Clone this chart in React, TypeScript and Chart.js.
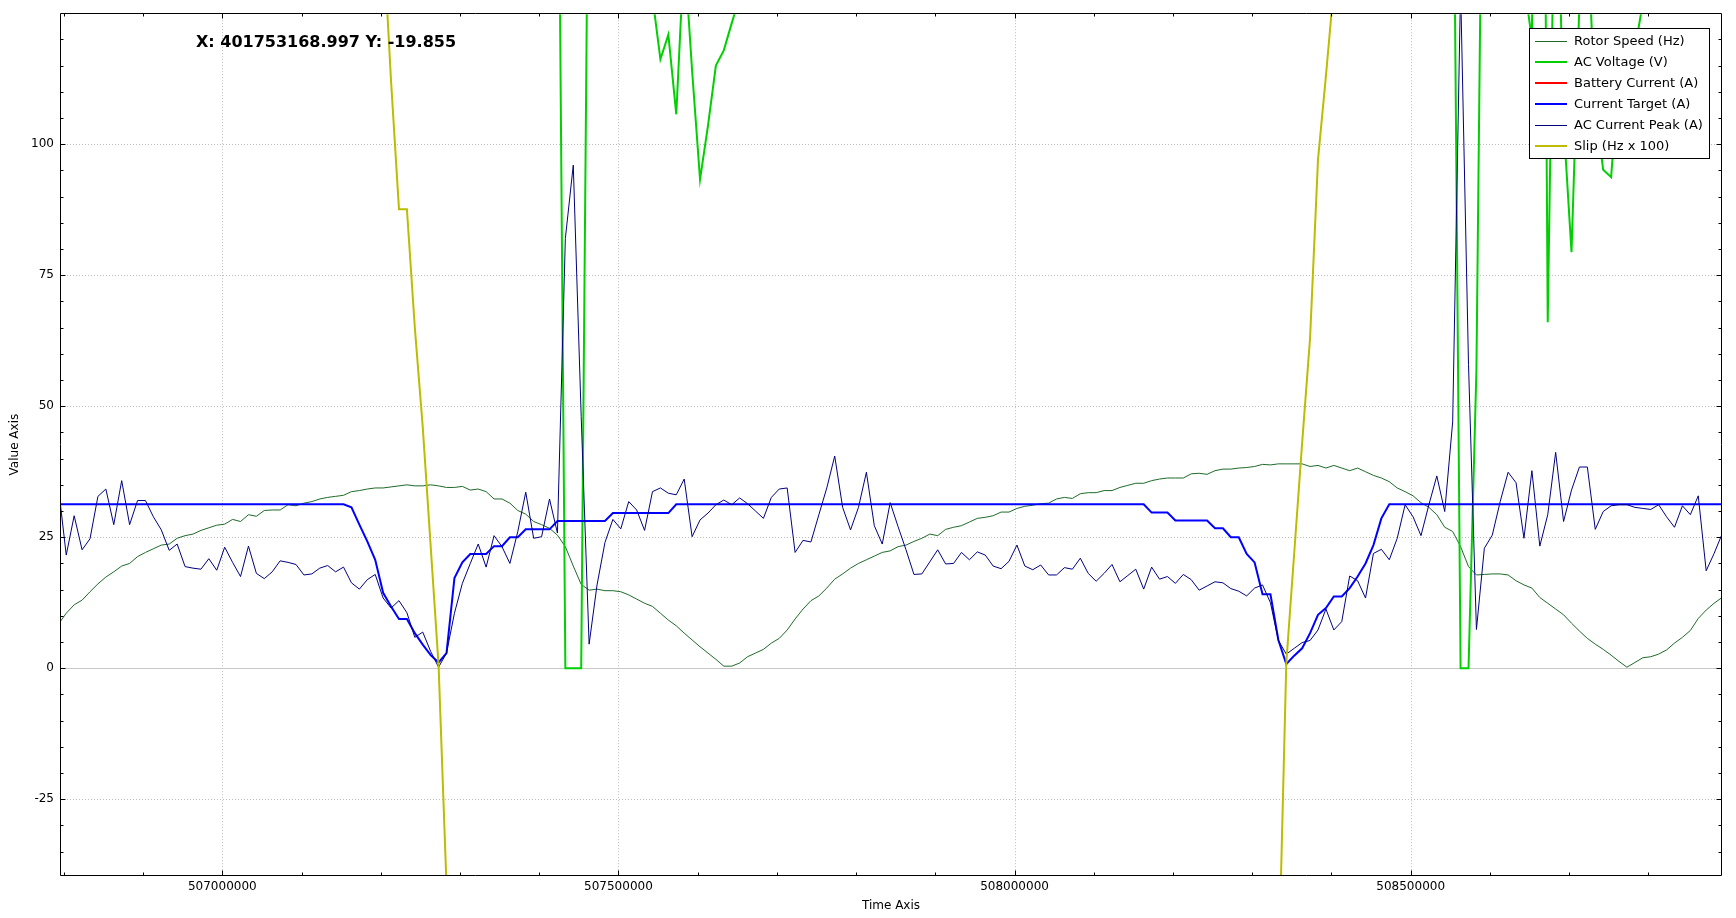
import React, { useEffect, useRef } from "react";
import { Chart, registerables } from "chart.js";

Chart.register(...registerables);

// Sample times (Time Axis)
const timeStamps: number[] = [
  506793000, 506803000, 506813000, 506823000, 506833000, 506843000, 506853000, 506863000, 506873000, 506883000,
  506893000, 506903000, 506913000, 506923000, 506933000, 506943000, 506953000, 506963000, 506973000, 506983000,
  506993000, 507003000, 507013000, 507023000, 507033000, 507043000, 507053000, 507063000, 507073000, 507083000,
  507093000, 507103000, 507113000, 507123000, 507133000, 507143000, 507153000, 507163000, 507173000, 507183000,
  507193000, 507203000, 507213000, 507223000, 507233000, 507243000, 507253000, 507263000, 507273000, 507283000,
  507293000, 507303000, 507313000, 507323000, 507333000, 507343000, 507353000, 507363000, 507373000, 507383000,
  507393000, 507403000, 507413000, 507423000, 507433000, 507443000, 507453000, 507463000, 507473000, 507483000,
  507493000, 507503000, 507513000, 507523000, 507533000, 507543000, 507553000, 507563000, 507573000, 507583000,
  507593000, 507603000, 507613000, 507623000, 507633000, 507643000, 507653000, 507663000, 507673000, 507683000,
  507693000, 507703000, 507713000, 507723000, 507733000, 507743000, 507753000, 507763000, 507773000, 507783000,
  507793000, 507803000, 507813000, 507823000, 507833000, 507843000, 507853000, 507863000, 507873000, 507883000,
  507893000, 507903000, 507913000, 507923000, 507933000, 507943000, 507953000, 507963000, 507973000, 507983000,
  507993000, 508003000, 508013000, 508023000, 508033000, 508043000, 508053000, 508063000, 508073000, 508083000,
  508093000, 508103000, 508113000, 508123000, 508133000, 508143000, 508153000, 508163000, 508173000, 508183000,
  508193000, 508203000, 508213000, 508223000, 508233000, 508243000, 508253000, 508263000, 508273000, 508283000,
  508293000, 508303000, 508313000, 508323000, 508333000, 508343000, 508353000, 508363000, 508373000, 508383000,
  508393000, 508403000, 508413000, 508423000, 508433000, 508443000, 508453000, 508463000, 508473000, 508483000,
  508493000, 508503000, 508513000, 508523000, 508533000, 508543000, 508553000, 508563000, 508573000, 508583000,
  508593000, 508603000, 508613000, 508623000, 508633000, 508643000, 508653000, 508663000, 508673000, 508683000,
  508693000, 508703000, 508713000, 508723000, 508733000, 508743000, 508753000, 508763000, 508773000, 508783000,
  508793000, 508803000, 508813000, 508823000, 508833000, 508843000, 508853000, 508863000, 508873000, 508883000,
  508893000,
];

const rotorSpeed: number[] = [
  8.4, 10.5, 12.1, 13.0, 14.6, 16.1, 17.4, 18.4, 19.5, 20.0,
  21.3, 22.1, 22.8, 23.5, 23.7, 24.8, 25.3, 25.6, 26.3, 26.8,
  27.3, 27.5, 28.4, 28.0, 29.3, 29.0, 30.1, 30.2, 30.2, 31.2,
  31.0, 31.5, 31.8, 32.3, 32.6, 32.8, 33.0, 33.7, 33.9, 34.2,
  34.4, 34.4, 34.6, 34.8, 35.0, 34.8, 34.8, 35.0, 34.8, 34.5,
  34.5, 34.7, 34.0, 34.2, 33.7, 32.3, 32.3, 31.5, 30.1, 29.4,
  28.0, 27.4, 26.7, 25.4, 23.2, 19.5, 16.0, 14.9, 15.1, 14.8,
  14.8, 14.6, 14.0, 13.2, 12.4, 11.8, 10.5, 9.2, 8.1, 6.7,
  5.4, 4.1, 2.9, 1.7, 0.4, 0.4, 1.0, 2.2, 2.9, 3.6,
  4.8, 5.7, 7.3, 9.4, 11.3, 12.9, 13.8, 15.3, 17.0, 18.0,
  19.1, 20.0, 20.7, 21.4, 22.1, 22.4, 23.2, 23.5, 24.2, 24.8,
  25.6, 25.3, 26.5, 26.9, 27.2, 27.9, 28.6, 28.8, 29.1, 29.8,
  29.8, 30.5, 30.9, 31.1, 31.4, 31.5, 32.3, 32.6, 32.4, 33.3,
  33.5, 33.5, 33.9, 33.9, 34.5, 34.9, 35.3, 35.3, 35.8, 36.1,
  36.3, 36.3, 36.3, 37.1, 37.2, 37.0, 37.7, 38.0, 38.0, 38.2,
  38.3, 38.5, 38.9, 38.8, 39.0, 39.0, 39.0, 39.0, 38.5, 38.7,
  38.2, 38.7, 38.2, 37.7, 38.2, 37.5, 36.8, 36.3, 35.6, 34.4,
  33.7, 32.9, 31.6, 30.7, 29.3, 26.9, 26.1, 23.2, 19.4, 17.8,
  17.9, 18.0, 18.0, 17.8, 16.7, 15.9, 15.3, 13.5, 12.4, 11.3,
  10.2, 8.6, 7.1, 5.7, 4.6, 3.6, 2.5, 1.3, 0.2, 1.1,
  2.0, 2.2, 2.7, 3.5, 4.8, 5.9, 7.2, 9.5, 11.1, 12.4,
  13.5,
];

const acVoltage: number[] = [
  300, 300, 300, 300, 300, 300, 300, 300, 300, 300,
  300, 300, 300, 300, 300, 300, 300, 300, 300, 300,
  300, 300, 300, 300, 300, 300, 300, 300, 300, 300,
  300, 300, 300, 300, 300, 300, 300, 300, 300, 300,
  300, 300, 300, 300, 300, 300, 300, 300, 300, 300,
  300, 300, 300, 300, 300, 300, 300, 300, 300, 300,
  300, 300, 300, 187, 0, 0, 0, 177, 300, 300,
  300, 300, 300, 300, 300, 128, 116.2, 120.9, 105.7, 137,
  114, 93.3, 103.5, 115.0, 117.9, 123.1, 128, 300, 300, 300,
  300, 300, 300, 300, 300, 300, 300, 300, 300, 300,
  300, 300, 300, 300, 300, 300, 300, 300, 300, 300,
  300, 300, 300, 300, 300, 300, 300, 300, 300, 300,
  300, 300, 300, 300, 300, 300, 300, 300, 300, 300,
  300, 300, 300, 300, 300, 300, 300, 300, 300, 300,
  300, 300, 300, 300, 300, 300, 300, 300, 300, 300,
  300, 300, 300, 300, 300, 300, 300, 300, 300, 300,
  300, 300, 300, 300, 300, 300, 300, 300, 300, 300,
  300, 300, 300, 300, 300, 300, 178, 0, 0, 57,
  200, 300, 300, 300, 300, 131, 120, 300, 66, 165,
  104, 79.4, 127, 141, 106.7, 95.1, 93.7, 114, 116, 118,
  127, 300, 300, 300, 300, 300, 300, 300, 300, 300,
  300,
];

const batteryCurrent: number[] = [];

const currentTarget: number[] = [
  31.3, 31.3, 31.3, 31.3, 31.3, 31.3, 31.3, 31.3, 31.3, 31.3,
  31.3, 31.3, 31.3, 31.3, 31.3, 31.3, 31.3, 31.3, 31.3, 31.3,
  31.3, 31.3, 31.3, 31.3, 31.3, 31.3, 31.3, 31.3, 31.3, 31.3,
  31.3, 31.3, 31.3, 31.3, 31.3, 31.3, 31.3, 30.7, 27.4, 24.2,
  20.7, 14.4, 11.8, 9.4, 9.4, 6.7, 4.5, 2.5, 1.1, 2.9,
  17.2, 20.2, 21.8, 21.8, 21.8, 23.3, 23.3, 25.0, 25.0, 26.5,
  26.5, 26.5, 26.5, 28.1, 28.1, 28.1, 28.1, 28.1, 28.1, 28.1,
  29.6, 29.6, 29.6, 29.6, 29.6, 29.6, 29.6, 29.6, 31.3, 31.3,
  31.3, 31.3, 31.3, 31.3, 31.3, 31.3, 31.3, 31.3, 31.3, 31.3,
  31.3, 31.3, 31.3, 31.3, 31.3, 31.3, 31.3, 31.3, 31.3, 31.3,
  31.3, 31.3, 31.3, 31.3, 31.3, 31.3, 31.3, 31.3, 31.3, 31.3,
  31.3, 31.3, 31.3, 31.3, 31.3, 31.3, 31.3, 31.3, 31.3, 31.3,
  31.3, 31.3, 31.3, 31.3, 31.3, 31.3, 31.3, 31.3, 31.3, 31.3,
  31.3, 31.3, 31.3, 31.3, 31.3, 31.3, 31.3, 31.3, 29.7, 29.7,
  29.7, 28.2, 28.2, 28.2, 28.2, 28.2, 26.7, 26.7, 25.0, 25.0,
  21.8, 20.2, 14.1, 14.1, 5.4, 0.8, 2.4, 3.8, 6.7, 10.2,
  11.5, 13.7, 13.7, 15.3, 17.5, 20.0, 23.5, 28.6, 31.3, 31.3,
  31.3, 31.3, 31.3, 31.3, 31.3, 31.3, 31.3, 31.3, 31.3, 31.3,
  31.3, 31.3, 31.3, 31.3, 31.3, 31.3, 31.3, 31.3, 31.3, 31.3,
  31.3, 31.3, 31.3, 31.3, 31.3, 31.3, 31.3, 31.3, 31.3, 31.3,
  31.3, 31.3, 31.3, 31.3, 31.3, 31.3, 31.3, 31.3, 31.3, 31.3,
  31.3,
];

const acCurrentPeak: number[] = [
  34.7, 21.6, 29.1, 22.6, 24.7, 32.8, 34.2, 27.4, 35.8, 27.4,
  32.0, 32.0, 28.9, 26.4, 22.5, 23.7, 19.4, 19.1, 18.9, 20.9,
  18.7, 23.1, 20.2, 17.5, 23.3, 18.1, 17.1, 18.4, 20.5, 20.2,
  19.8, 17.8, 18.0, 19.1, 19.6, 18.4, 19.3, 16.3, 15.1, 16.9,
  17.9, 13.4, 11.5, 12.9, 10.6, 5.9, 6.9, 3.2, 0.2, 2.9,
  10.5, 16.2, 20.0, 23.7, 19.3, 25.3, 23.2, 20.0, 26.1, 33.6,
  24.8, 25.1, 32.3, 25.8, 82.0, 96.0, 48.0, 4.6, 15.9, 24.0,
  28.4, 26.6, 31.8, 30.2, 26.3, 33.7, 34.4, 33.4, 33.1, 36.1,
  25.1, 28.3, 29.6, 31.2, 32.1, 31.2, 32.5, 31.4, 30.0, 28.6,
  32.6, 34.2, 34.4, 22.1, 24.4, 24.1, 29.3, 34.4, 40.5, 30.7,
  26.4, 30.7, 37.4, 27.2, 23.7, 31.6, 27.0, 22.6, 17.9, 18.0,
  20.3, 22.6, 19.9, 20.0, 22.1, 20.7, 22.2, 21.6, 19.5, 19.0,
  20.4, 23.5, 19.5, 18.8, 19.7, 17.8, 17.8, 19.2, 18.9, 21.0,
  18.1, 16.6, 18.1, 19.8, 16.5, 17.7, 18.9, 15.1, 19.3, 17.0,
  17.5, 16.2, 17.9, 16.9, 14.9, 15.7, 16.5, 16.3, 15.2, 14.7,
  13.8, 15.3, 15.9, 12.5, 5.3, 2.7, 3.8, 4.9, 5.3, 7.3,
  11.3, 7.3, 8.9, 17.6, 16.7, 13.4, 21.9, 22.7, 20.7, 24.8,
  31.2, 28.9, 25.3, 31.2, 36.7, 29.9, 47.0, 130.0, 58.0, 7.4,
  22.9, 25.4, 31.8, 37.4, 35.4, 24.8, 37.7, 23.3, 29.3, 41.2,
  28.0, 34.0, 38.4, 38.4, 26.5, 29.9, 31.0, 31.2, 31.2, 30.7,
  30.5, 30.3, 31.2, 28.9, 26.9, 31.0, 29.3, 32.9, 18.6, 21.9,
  25.6,
];

const slip: number[] = [
  200, 200, 200, 200, 200, 200, 200, 200, 200, 200,
  200, 200, 200, 200, 200, 200, 200, 200, 200, 200,
  200, 200, 200, 200, 200, 200, 200, 200, 200, 200,
  200, 200, 200, 200, 200, 200, 200, 200, 200, 200,
  200, 140, 112, 87.6, 87.6, 65, 46, 23.3, 0.5, -41.5,
  -150, -150, -150, -150, -150, -150, -150, -150, -150, -150,
  -150, -150, -150, -150, -150, -150, -150, -150, -150, -150,
  -150, -150, -150, -150, -150, -150, -150, -150, -150, -150,
  -150, -150, -150, -150, -150, -150, -150, -150, -150, -150,
  -150, -150, -150, -150, -150, -150, -150, -150, -150, -150,
  -150, -150, -150, -150, -150, -150, -150, -150, -150, -150,
  -150, -150, -150, -150, -150, -150, -150, -150, -150, -150,
  -150, -150, -150, -150, -150, -150, -150, -150, -150, -150,
  -150, -150, -150, -150, -150, -150, -150, -150, -150, -150,
  -150, -150, -150, -150, -150, -150, -150, -150, -150, -150,
  -150, -150, -150, -150, -60, 1, 22, 43, 63, 97,
  113, 130, 200, 200, 200, 200, 200, 200, 200, 200,
  200, 200, 200, 200, 200, 200, 200, 200, 200, 200,
  200, 200, 200, 200, 200, 200, 200, 200, 200, 200,
  200, 200, 200, 200, 200, 200, 200, 200, 200, 200,
  200, 200, 200, 200, 200, 200, 200, 200, 200, 200,
  200,
];

const seriesLabels = [
  "Rotor Speed (Hz)",
  "AC Voltage (V)",
  "Battery Current (A)",
  "Current Target (A)",
  "AC Current Peak (A)",
  "Slip (Hz x 100)",
];

const xMajorTicks = [507000000, 507500000, 508000000, 508500000];
const xMinorTicks = [
  506800000, 506900000, 507100000, 507200000, 507300000, 507400000, 507600000, 507700000,
  507800000, 507900000, 508100000, 508200000, 508300000, 508400000, 508600000, 508700000, 508800000,
];
const yMajorTicks = [-25, 0, 25, 50, 75, 100];
const yMinorTicks = [
  -35, -30, -20, -15, -10, -5, 5, 10, 15, 20, 30, 35, 40, 45, 55, 60, 65, 70, 80, 85, 90, 95, 105, 110, 115, 120,
];

const X_MIN = 506796390;
const X_MAX = 508891700;
const Y_MIN = -39.45;
const Y_MAX = 124.8;

const trackerText = "X: 401753168.997 Y: -19.855";
const xTitle = "Time Axis";
const yTitle = "Value Axis";

const seriesStyles = [
  { color: "#1f6a2a", width: 1 },
  { color: "#00d000", width: 2 },
  { color: "#ff0000", width: 2 },
  { color: "#0000ff", width: 2 },
  { color: "#000080", width: 1 },
  { color: "#bcbc00", width: 2 },
];

const FONT = "'DejaVu Sans', 'Liberation Sans', sans-serif";

const framePlugin = {
  id: "qwtFrame",
  beforeDatasetsDraw(chart: any) {
    const { ctx, chartArea: a, scales } = chart;
    const xs = scales.x;
    const ys = scales.y;
    ctx.save();
    ctx.lineWidth = 1;
    ctx.strokeStyle = "#bdbdbd";
    ctx.setLineDash([1, 2]);
    for (const v of xMajorTicks) {
      const px = Math.round(xs.getPixelForValue(v)) + 0.5;
      ctx.beginPath();
      ctx.moveTo(px, a.top);
      ctx.lineTo(px, a.bottom);
      ctx.stroke();
    }
    for (const v of yMajorTicks) {
      if (v === 0) continue;
      const py = Math.round(ys.getPixelForValue(v)) + 0.5;
      ctx.beginPath();
      ctx.moveTo(a.left, py);
      ctx.lineTo(a.right, py);
      ctx.stroke();
    }
    ctx.setLineDash([]);
    ctx.strokeStyle = "#c8c8c8";
    const p0 = Math.round(ys.getPixelForValue(0)) + 0.5;
    ctx.beginPath();
    ctx.moveTo(a.left, p0);
    ctx.lineTo(a.right, p0);
    ctx.stroke();
    ctx.restore();
  },
  afterDatasetsDraw(chart: any) {
    const { ctx, chartArea: a, scales } = chart;
    const xs = scales.x;
    const ys = scales.y;
    ctx.save();
    // frame
    ctx.strokeStyle = "#000";
    ctx.lineWidth = 1;
    const L = Math.round(a.left) - 0.5;
    const R = Math.round(a.right) + 0.5;
    const T = Math.round(a.top) - 0.5;
    const B = Math.round(a.bottom) + 0.5;
    ctx.beginPath();
    ctx.rect(L, T, R - L, B - T);
    ctx.stroke();
    // ticks (inward)
    const tick = (vals: number[], len: number) => {
      for (const v of vals) {
        const px = Math.round(xs.getPixelForValue(v)) + 0.5;
        ctx.beginPath();
        ctx.moveTo(px, B);
        ctx.lineTo(px, B - len);
        ctx.moveTo(px, T);
        ctx.lineTo(px, T + len);
        ctx.stroke();
      }
    };
    const ytick = (vals: number[], len: number) => {
      for (const v of vals) {
        const py = Math.round(ys.getPixelForValue(v)) + 0.5;
        ctx.beginPath();
        ctx.moveTo(L, py);
        ctx.lineTo(L + len, py);
        ctx.moveTo(R, py);
        ctx.lineTo(R - len, py);
        ctx.stroke();
      }
    };
    tick(xMajorTicks, 5);
    tick(xMinorTicks, 3);
    ytick(yMajorTicks, 5);
    ytick(yMinorTicks, 3);

    // legend
    const lw = 181;
    const lh = 131;
    const lx = Math.round(a.right) - 11 - lw;
    const ly = Math.round(a.top) + 14;
    ctx.fillStyle = "#fff";
    ctx.fillRect(lx, ly, lw, lh);
    ctx.strokeStyle = "#000";
    ctx.lineWidth = 1;
    ctx.strokeRect(lx + 0.5, ly + 0.5, lw - 1, lh - 1);
    ctx.font = `13px ${FONT}`;
    ctx.textBaseline = "middle";
    ctx.textAlign = "left";
    chart.data.datasets.forEach((ds: any, k: number) => {
      const ry = Math.round(ly + 13 + k * 20.93);
      ctx.strokeStyle = ds.borderColor;
      ctx.lineWidth = ds.borderWidth;
      const yy = ds.borderWidth % 2 === 1 ? ry + 0.5 : ry;
      ctx.beginPath();
      ctx.moveTo(lx + 6, yy);
      ctx.lineTo(lx + 38, yy);
      ctx.stroke();
      ctx.fillStyle = "#000";
      ctx.fillText(ds.label, lx + 45, ry + 0.5);
    });

    // tracker text
    ctx.font = `bold 16px ${FONT}`;
    ctx.fillStyle = "#000";
    ctx.textBaseline = "middle";
    ctx.textAlign = "left";
    ctx.fillText(trackerText, Math.round(a.left) + 135, Math.round(a.top) + 29);
    ctx.restore();
  },
};

export default function App() {
  const ref = useRef<HTMLCanvasElement>(null);
  useEffect(() => {
    const canvas = ref.current;
    if (!canvas) return;
    const seriesValues = [rotorSpeed, acVoltage, batteryCurrent, currentTarget, acCurrentPeak, slip];
    const datasets = seriesValues.map((vals, k) => ({
      label: seriesLabels[k],
      data: vals.map((v, i) => ({ x: timeStamps[i], y: v })),
      borderColor: seriesStyles[k].color,
      backgroundColor: seriesStyles[k].color,
      borderWidth: seriesStyles[k].width,
      pointRadius: 0,
      pointHoverRadius: 0,
      tension: 0,
      fill: false,
      clip: 0,
      order: seriesValues.length - k,
    }));
    const chart = new Chart(canvas, {
      type: "line",
      data: { datasets } as any,
      options: {
        animation: false,
        responsive: false,
        devicePixelRatio: 1,
        events: [],
        layout: { padding: { top: 14, right: 15, left: 0, bottom: 0 } },
        plugins: {
          legend: { display: false },
          tooltip: { enabled: false },
          title: { display: false },
        },
        scales: {
          x: {
            type: "linear",
            min: X_MIN,
            max: X_MAX,
            afterFit: (s: any) => {
              s.height = 43;
            },
            afterBuildTicks: (s: any) => {
              s.ticks = xMajorTicks.map((v) => ({ value: v }));
            },
            grid: { display: false, drawTicks: false, drawOnChartArea: false },
            border: { display: false },
            ticks: {
              autoSkip: false,
              maxRotation: 0,
              minRotation: 0,
              padding: 5,
              color: "#000",
              font: { family: FONT, size: 12 },
              callback: (v: any) => String(v),
            },
            title: {
              display: true,
              text: xTitle,
              color: "#000",
              font: { family: FONT, size: 12 },
              padding: { top: 0, bottom: 4.5 },
            },
          },
          y: {
            type: "linear",
            min: Y_MIN,
            max: Y_MAX,
            afterFit: (s: any) => {
              s.width = 61;
            },
            afterBuildTicks: (s: any) => {
              s.ticks = yMajorTicks.map((v) => ({ value: v }));
            },
            grid: { display: false, drawTicks: false, drawOnChartArea: false },
            border: { display: false },
            ticks: {
              autoSkip: false,
              padding: 7,
              color: "#000",
              font: { family: FONT, size: 12 },
              callback: (v: any) => String(v),
            },
            title: {
              display: true,
              text: yTitle,
              color: "#000",
              font: { family: FONT, size: 12 },
              padding: { top: 7.2, bottom: 0 },
            },
          },
        },
      } as any,
      plugins: [framePlugin],
    });
    return () => chart.destroy();
  }, []);
  return (
    <div style={{ position: "fixed", left: 0, top: 0, width: 1736, height: 918, background: "#fff" }}>
      <canvas ref={ref} width={1736} height={918} style={{ display: "block", width: 1736, height: 918 }} />
    </div>
  );
}
